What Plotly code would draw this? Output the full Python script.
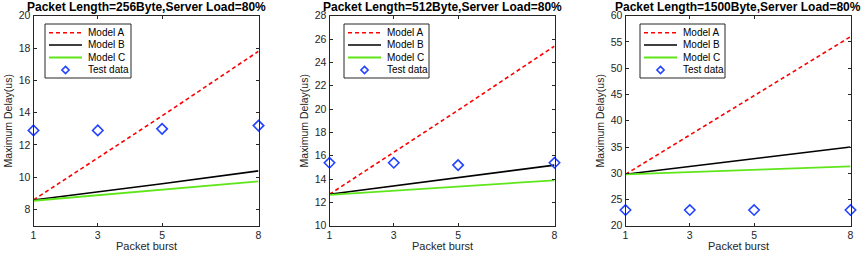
import plotly.graph_objects as go

W, H = 866, 253

burst = [1, 3, 5, 8]
titles = ["Packet Length=256Byte,Server Load=80%",
          "Packet Length=512Byte,Server Load=80%",
          "Packet Length=1500Byte,Server Load=80%"]
series_names = ["Model A", "Model B", "Model C", "Test data"]

model_a = [[8.6, 11.2, 13.8, 17.8], [12.7, 16.3, 19.9, 25.4], [29.8, 37.3, 44.8, 56.0]]
model_b = [[8.6, 9.1, 9.6, 10.4], [12.7, 13.4, 14.1, 15.2], [29.8, 31.3, 32.8, 35.0]]
model_c = [[8.55, 8.9, 9.25, 9.75], [12.65, 13.0, 13.35, 13.9], [29.8, 30.2, 30.6, 31.3]]
test_data = [[12.9, 12.9, 13.0, 13.2], [15.4, 15.4, 15.2, 15.4], [23.0, 23.0, 23.0, 23.0]]

y_ranges = [[7, 20], [10, 28], [20, 60]]
y_ticks = [list(range(8, 21, 2)), list(range(10, 29, 2)), list(range(20, 61, 5))]

RED = "#ff0000"
BLACK = "#000000"
GREEN = "#5fe61a"
BLUE = "#2343ff"
AX = "#262626"
FONT = "Liberation Sans, Arial, sans-serif"

plot_left = [33.5, 329.5, 625.5]
plot_w = 225.0
plot_top, plot_bot = 15.7, 225.8
legend_left = [45.0, 344.0, 640.0]
legend_w = [86.0, 85.0, 85.0]


def px(x):
    return x / W


def py(y):
    return 1 - y / H


fig = go.Figure()

for i in range(3):
    xa = "x" if i == 0 else f"x{i+1}"
    ya = "y" if i == 0 else f"y{i+1}"
    fig.add_trace(go.Scatter(x=burst, y=model_a[i], mode="lines", name=series_names[0],
                             line=dict(color=RED, width=1.6, dash="4px,3px"),
                             xaxis=xa, yaxis=ya, showlegend=False))
    fig.add_trace(go.Scatter(x=burst, y=model_b[i], mode="lines", name=series_names[1],
                             line=dict(color=BLACK, width=1.6),
                             xaxis=xa, yaxis=ya, showlegend=False))
    fig.add_trace(go.Scatter(x=burst, y=model_c[i], mode="lines", name=series_names[2],
                             line=dict(color=GREEN, width=1.8),
                             xaxis=xa, yaxis=ya, showlegend=False))
    fig.add_trace(go.Scatter(x=burst, y=test_data[i], mode="markers", name=series_names[3],
                             marker=dict(symbol="diamond-open", size=8, color=BLUE,
                                         line=dict(width=1.6, color=BLUE)),
                             xaxis=xa, yaxis=ya, showlegend=False, cliponaxis=False))

    sfx = "" if i == 0 else str(i + 1)
    x0 = px(plot_left[i])
    x1 = px(plot_left[i] + plot_w)
    fig.update_layout(**{
        f"xaxis{sfx}": dict(domain=[x0, x1], range=[1, 8], tickvals=burst,
                            ticks="inside", ticklen=3, tickcolor=AX, tickwidth=1,
                            showline=True, linecolor=AX, linewidth=1, mirror="ticks",
                            showgrid=False, zeroline=False, automargin=False,
                            tickfont=dict(family=FONT, size=10.5, color=AX),
                            anchor=ya, fixedrange=True),
        f"yaxis{sfx}": dict(domain=[py(plot_bot), py(plot_top)],
                            range=y_ranges[i], tickvals=y_ticks[i],
                            ticks="inside", ticklen=3, tickcolor=AX, tickwidth=1,
                            showline=True, linecolor=AX, linewidth=1, mirror="ticks",
                            showgrid=False, zeroline=False, automargin=False,
                            tickfont=dict(family=FONT, size=10.5, color=AX),
                            title=dict(text="Maximum Delay(us)", standoff=4,
                                       font=dict(family=FONT, size=10.5, color=AX)),
                            anchor=xa, fixedrange=True),
    })

shapes = []
annotations = []
row_y = [32.7, 45.0, 57.5, 70.0]
styles = [dict(color=RED, width=1.6, dash="4px,3px"), dict(color=BLACK, width=1.6),
          dict(color=GREEN, width=1.8)]
for i in range(3):
    L = legend_left[i]
    shapes.append(dict(type="rect", xref="paper", yref="paper", x0=px(L), x1=px(L + legend_w[i]),
                       y0=py(24), y1=py(78), line=dict(color=AX, width=1),
                       fillcolor="white", layer="above"))
    for k in range(3):
        shapes.append(dict(type="line", xref="paper", yref="paper", x0=px(L + 4), x1=px(L + 37),
                           y0=py(row_y[k]), y1=py(row_y[k]), line=styles[k], layer="above"))
    # diamond legend symbol
    cx, cy, r = L + 20.5, row_y[3], 3.6
    path = (f"M {px(cx)},{py(cy - r)} L {px(cx + r)},{py(cy)} "
            f"L {px(cx)},{py(cy + r)} L {px(cx - r)},{py(cy)} Z")
    shapes.append(dict(type="path", xref="paper", yref="paper", path=path,
                       line=dict(color=BLUE, width=1.6), layer="above"))
    for k in range(4):
        annotations.append(dict(xref="paper", yref="paper", x=px(L + 40.5), y=py(row_y[k]),
                                text=series_names[k], showarrow=False,
                                xanchor="left", yanchor="middle",
                                font=dict(family=FONT, size=10, color="#000000")))
    annotations.append(dict(xref="paper", yref="paper",
                            x=px(plot_left[i] + plot_w / 2), y=py(7.3),
                            text="<b>" + titles[i] + "</b>", showarrow=False,
                            xanchor="center", yanchor="middle",
                            font=dict(family=FONT, size=12, color="#000000")))
    annotations.append(dict(xref="paper", yref="paper",
                            x=px(plot_left[i] + plot_w / 2), y=py(245.5),
                            text="Packet burst", showarrow=False,
                            xanchor="center", yanchor="middle",
                            font=dict(family=FONT, size=11, color=AX)))

fig.update_layout(width=W, height=H, margin=dict(l=0, r=0, t=0, b=0),
                  paper_bgcolor="white", plot_bgcolor="white",
                  shapes=shapes, annotations=annotations, showlegend=False)

fig.write_html("out.html", config={"displayModeBar": False},
               post_script="document.body.style.margin='0';document.body.style.padding='0';"
                           "document.body.style.overflow='hidden';")
